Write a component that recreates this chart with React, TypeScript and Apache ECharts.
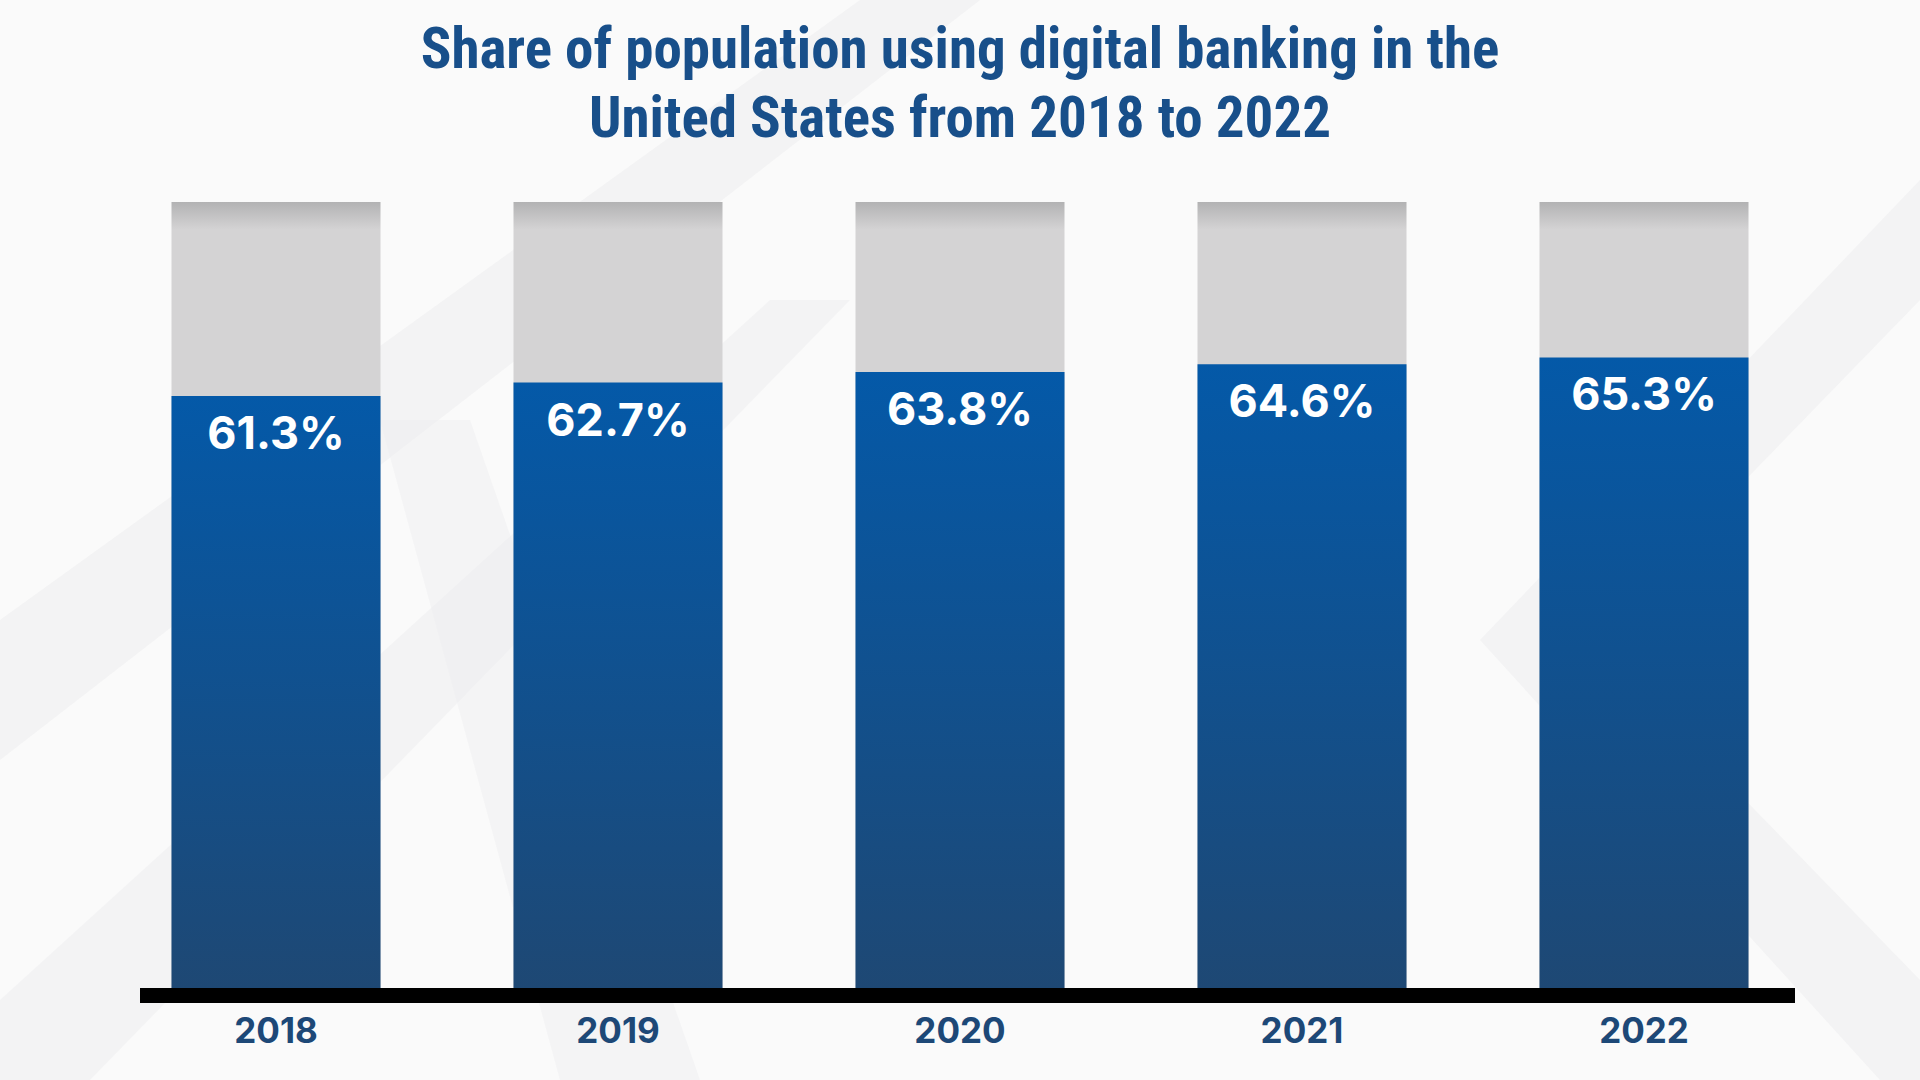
import React, { useEffect, useRef } from "react";
import * as echarts from "echarts";

const years = ["2018", "2019", "2020", "2021", "2022"];
const shares = [61.3, 62.7, 63.8, 64.6, 65.3];
const titleLines = [
  "Share of population using digital banking in the",
  "United States from 2018 to 2022",
];

export default function App() {
  const ref = useRef<HTMLDivElement>(null);
  useEffect(() => {
    if (!ref.current) return;
    const chart = echarts.init(ref.current, null, { renderer: "svg" });
    chart.setOption({
      animation: false,
      backgroundColor: "#fafafa",
      title: {
        text: titleLines.join("\n"),
        left: "center",
        top: 14,
        padding: 0,
        textStyle: {
          fontFamily: "'Roboto Condensed', 'Liberation Sans Narrow', 'Arial Narrow', 'DejaVu Sans Condensed', sans-serif",
          fontWeight: 700,
          fontSize: 57,
          lineHeight: 69,
          color: "#184f8a",
        },
      },
      graphic: [
        { type: "polygon", z: -10, shape: { points: [[0, 620], [860, 0], [980, 0], [0, 760]] }, style: { fill: "rgba(236,236,238,0.55)" } },
        { type: "polygon", z: -10, shape: { points: [[0, 1000], [770, 300], [850, 300], [90, 1080], [0, 1080]] }, style: { fill: "rgba(236,236,238,0.45)" } },
        { type: "polygon", z: -10, shape: { points: [[380, 420], [560, 1080], [700, 1080], [470, 420]] }, style: { fill: "rgba(238,238,240,0.45)" } },
        { type: "polygon", z: -10, shape: { points: [[1480, 640], [1920, 180], [1920, 300], [1590, 640], [1920, 980], [1920, 1080], [1880, 1080], [1480, 640]] }, style: { fill: "rgba(236,236,238,0.55)" } },
        { type: "rect", z: 10, shape: { x: 140, y: 988, width: 1655, height: 15 }, style: { fill: "#000000" } },
      ],
      grid: { left: 105, right: 105, top: 202, bottom: 92 },
      xAxis: {
        type: "category",
        data: years,
        axisLine: { show: false },
        axisTick: { show: false },
        axisLabel: {
          margin: 22,
          fontFamily: "Inter, 'Noto Sans', sans-serif",
          fontWeight: 700,
          fontSize: 35,
          lineHeight: 40,
          color: "#1d4877",
        },
      },
      yAxis: { type: "value", min: 0, max: 81.4, show: false, splitLine: { show: false } },
      series: [
        {
          type: "bar",
          data: shares,
          barWidth: 209,
          showBackground: true,
          backgroundStyle: {
            color: new echarts.graphic.LinearGradient(0, 0, 0, 1, [
              { offset: 0, color: "#b2b2b3" },
              { offset: 0.035, color: "#d4d3d4" },
              { offset: 1, color: "#d4d3d4" },
            ]),
          },
          itemStyle: {
            color: new echarts.graphic.LinearGradient(0, 0, 0, 1, [
              { offset: 0, color: "#0459a8" },
              { offset: 1, color: "#1e4874" },
            ]),
          },
          label: {
            show: true,
            position: "insideTop",
            distance: 14,
            formatter: "{c}%",
            fontFamily: "Inter, 'Noto Sans', sans-serif",
            fontWeight: 700,
            fontSize: 45,
            lineHeight: 45,
            color: "#ffffff",
          },
        },
      ],
    });
    return () => chart.dispose();
  }, []);
  return <div ref={ref} style={{ position: "fixed", left: 0, top: 0, width: "100vw", height: "100vh" }} />;
}
